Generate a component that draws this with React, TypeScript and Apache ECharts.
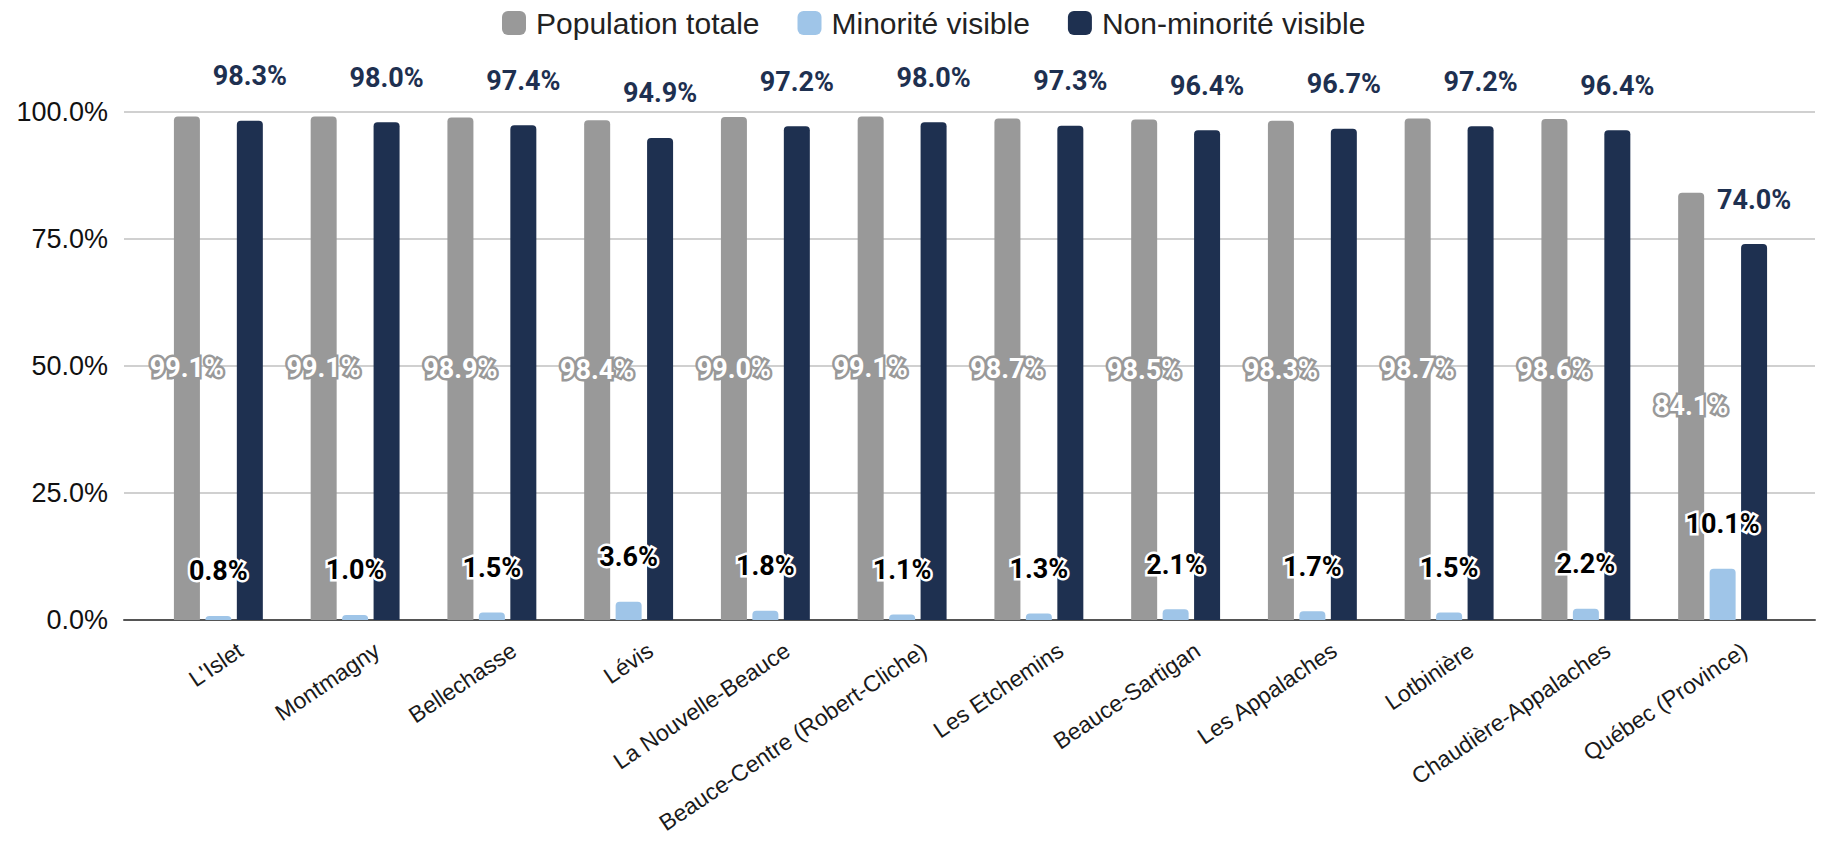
import React, { useEffect, useRef } from "react";
import * as echarts from "echarts";

const categories = [
  "L'Islet",
  "Montmagny",
  "Bellechasse",
  "Lévis",
  "La Nouvelle-Beauce",
  "Beauce-Centre (Robert-Cliche)",
  "Les Etchemins",
  "Beauce-Sartigan",
  "Les Appalaches",
  "Lotbinière",
  "Chaudière-Appalaches",
  "Québec (Province)",
];
const populationTotale = [99.1, 99.1, 98.9, 98.4, 99.0, 99.1, 98.7, 98.5, 98.3, 98.7, 98.6, 84.1];
const minoriteVisible = [0.8, 1.0, 1.5, 3.6, 1.8, 1.1, 1.3, 2.1, 1.7, 1.5, 2.2, 10.1];
const nonMinoriteVisible = [98.3, 98.0, 97.4, 94.9, 97.2, 98.0, 97.3, 96.4, 96.7, 97.2, 96.4, 74.0];
const seriesNames = ["Population totale", "Minorité visible", "Non-minorité visible"];
const yMin = 0;
const yMax = 100;
const yStep = 25;

const GRAY = "#999999";
const LIGHT = "#9fc5e8";
const NAVY = "#1e3050";

export default function App() {
  const ref = useRef<HTMLDivElement>(null);
  useEffect(() => {
    if (!ref.current) return;
    const chart = echarts.init(ref.current, undefined, { renderer: "svg" });
    const labelFont = { fontFamily: "Roboto", fontWeight: "bold" as const, fontSize: 27 };
    const pct = (p: any) => Number(p.value).toFixed(1) + "%";
    chart.setOption({
      animation: false,
      backgroundColor: "#ffffff",
      legend: {
        data: seriesNames,
        left: 497,
        top: 3,
        itemWidth: 24,
        itemHeight: 24,
        itemGap: 38,
        icon: "roundRect",
        textStyle: { fontFamily: "Liberation Sans", fontSize: 30, color: "#222", padding: [0, 0, 0, 5] },
      },
      grid: [
        { left: 124, right: 7, top: 112, bottom: 240 },
        { left: 150, right: 31, top: 112, bottom: 240 },
        { left: 172, right: 9, top: 112, bottom: 240 },
      ],
      xAxis: [
        {
          gridIndex: 0,
          type: "category",
          data: categories,
          axisLine: { show: true, lineStyle: { color: "#555", width: 2 } },
          axisTick: { show: false },
          axisLabel: { show: false },
        },
        {
          gridIndex: 1,
          type: "category",
          data: categories,
          axisLine: { show: false },
          axisTick: { show: false },
          axisLabel: { show: false },
        },
        {
          gridIndex: 2,
          type: "category",
          data: categories,
          axisLine: { show: false },
          axisTick: { show: false },
          axisLabel: {
            show: true,
            rotate: 34,
            margin: 28,
            interval: 0,
            fontFamily: "Liberation Sans",
            fontSize: 23,
            color: "#1a1a1a",
          },
        },
      ],
      yAxis: [
        {
          gridIndex: 0,
          type: "value",
          min: yMin,
          max: yMax,
          interval: yStep,
          axisLine: { show: false },
          axisTick: { show: false },
          splitLine: { lineStyle: { color: "#d0d0d0", width: 2 } },
          axisLabel: {
            margin: 16,
            fontFamily: "Liberation Sans",
            fontSize: 27,
            color: "#111",
            formatter: (v: number) => v.toFixed(1) + "%",
          },
        },
        { gridIndex: 1, type: "value", min: yMin, max: yMax, interval: yStep, show: false },
        { gridIndex: 2, type: "value", min: yMin, max: yMax, interval: yStep, show: false },
      ],
      series: [
        {
          name: seriesNames[0],
          type: "bar",
          xAxisIndex: 1,
          yAxisIndex: 1,
          data: populationTotale,
          barWidth: 26,
          barGap: "21%",
          itemStyle: { color: GRAY, borderRadius: [4, 4, 0, 0] },
          label: {
            show: true,
            position: "inside",
            formatter: pct,
            color: "#ffffff",
            textBorderColor: GRAY,
            textBorderWidth: 5,
            ...labelFont,
          },
        },
        {
          name: seriesNames[1],
          type: "bar",
          xAxisIndex: 1,
          yAxisIndex: 1,
          data: minoriteVisible,
          barWidth: 26,
          barGap: "21%",
          itemStyle: { color: LIGHT, borderRadius: [4, 4, 0, 0] },
          label: {
            show: true,
            position: "top",
            distance: 31,
            formatter: pct,
            color: "#000000",
            textBorderColor: "#ffffff",
            textBorderWidth: 5,
            ...labelFont,
          },
        },
        {
          name: seriesNames[2],
          type: "bar",
          xAxisIndex: 1,
          yAxisIndex: 1,
          data: nonMinoriteVisible,
          barWidth: 26,
          barGap: "21%",
          itemStyle: { color: NAVY, borderRadius: [4, 4, 0, 0] },
          label: {
            show: true,
            position: "top",
            distance: 31,
            formatter: pct,
            color: NAVY,
            ...labelFont,
          },
        },
      ],
    });
    return () => chart.dispose();
  }, []);
  return (
    <div
      ref={ref}
      style={{ position: "fixed", left: 0, top: 0, width: 1822, height: 860, background: "#fff" }}
    />
  );
}
